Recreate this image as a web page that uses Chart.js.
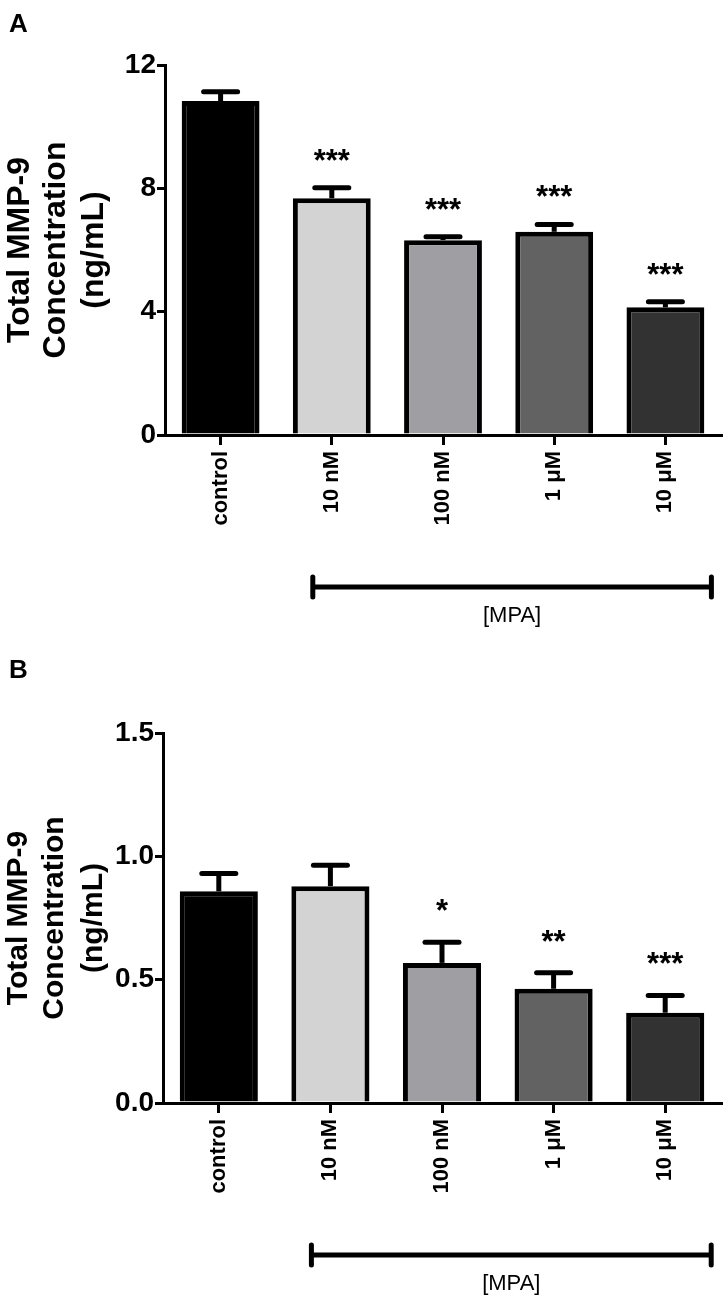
<!DOCTYPE html>
<html>
<head>
<meta charset="utf-8">
<script src="https://cdn.jsdelivr.net/npm/chart.js@4.4.1/dist/chart.umd.min.js"></script>
<style>
  html, body { margin: 0; padding: 0; background: #fff; }
  .panel { position: absolute; left: 0; width: 726px; height: 650px; }
  #pa { top: 0; }
  #pb { top: 650px; }
</style>
</head>
<body>
<div class="panel" id="pa"><canvas id="chartA" width="726" height="650"></canvas></div>
<div class="panel" id="pb"><canvas id="chartB" width="726" height="650"></canvas></div>
<script>
// ---- data ----
const categories = ['control', '10 nM', '100 nM', '1 \u03bcM', '10 \u03bcM'];
const barColors = ['#000000', '#d3d3d3', '#9f9fa3', '#626262', '#323232'];

const meansA = [10.83, 7.68, 6.32, 6.59, 4.14];
const semA   = [0.30, 0.34, 0.11, 0.24, 0.18];
const starsA = ['', '***', '***', '***', '***'];
const yTicksA = [0, 4, 8, 12];

const meansB = [0.858, 0.879, 0.568, 0.463, 0.366];
const semB   = [0.072, 0.085, 0.084, 0.065, 0.070];
const starsB = ['', '', '*', '**', '***'];
const yTicksB = [0, 0.5, 1.0, 1.5];

const yTitleLines = ['Total MMP-9', 'Concentration', '(ng/mL)'];
const bracketLabel = '[MPA]';

const FONT = '"Liberation Sans", Arial, Helvetica, sans-serif';

// ---- plugin drawing error bars, stars, bracket, titles ----
const extrasPlugin = {
  id: 'extras',
  afterDatasetsDraw(chart) {
    const o = chart.options.plugins.extras;
    const ctx = chart.ctx;
    const meta = chart.getDatasetMeta(0);
    const ys = chart.scales.y;
    ctx.save();
    ctx.strokeStyle = '#000';
    ctx.lineWidth = 5;
    meta.data.forEach((bar, i) => {
      const top = bar.y;
      const capY = ys.getPixelForValue(o.means[i] + o.sem[i]);
      ctx.lineCap = 'butt';
      ctx.beginPath();
      ctx.moveTo(bar.x, top);
      ctx.lineTo(bar.x, capY);
      ctx.stroke();
      ctx.lineCap = 'round';
      ctx.beginPath();
      ctx.moveTo(bar.x - 17, capY);
      ctx.lineTo(bar.x + 17, capY);
      ctx.stroke();
      if (o.stars[i]) {
        ctx.fillStyle = '#000';
        ctx.font = 'bold 31px ' + FONT;
        ctx.textAlign = 'center';
        ctx.textBaseline = 'alphabetic';
        ctx.fillText(o.stars[i], bar.x, capY - o.starGap + 18);
      }
    });
    ctx.restore();
  },
  afterDraw(chart) {
    const o = chart.options.plugins.extras;
    const ctx = chart.ctx;
    const area = chart.chartArea;
    const xs = chart.scales.x;
    ctx.save();
    // panel letter
    ctx.fillStyle = '#000';
    ctx.font = 'bold 26px ' + FONT;
    ctx.textAlign = 'left';
    ctx.textBaseline = 'alphabetic';
    ctx.fillText(o.letter, 9, o.letterY);
    // y-axis title (three rotated lines)
    ctx.font = 'bold ' + o.titleSize + 'px ' + FONT;
    ctx.textAlign = 'center';
    ctx.textBaseline = 'middle';
    const cy = (area.top + area.bottom) / 2;
    o.titleX.forEach((tx, k) => {
      ctx.save();
      ctx.translate(tx, cy);
      ctx.rotate(-Math.PI / 2);
      ctx.fillText(yTitleLines[k], 0, 0);
      ctx.restore();
    });
    // [MPA] bracket under treated groups
    const bx0 = xs.getPixelForValue(1) - 19;
    const bx1 = xs.getPixelForValue(4) + 46;
    const by = area.bottom + o.bracketGap;
    ctx.strokeStyle = '#000';
    ctx.lineWidth = 5;
    ctx.lineCap = 'butt';
    ctx.beginPath();
    ctx.moveTo(bx0, by);
    ctx.lineTo(bx1, by);
    ctx.stroke();
    ctx.lineCap = 'round';
    ctx.beginPath();
    ctx.moveTo(bx0, by - 10);
    ctx.lineTo(bx0, by + 10);
    ctx.moveTo(bx1, by - 10);
    ctx.lineTo(bx1, by + 10);
    ctx.stroke();
    ctx.font = '22px ' + FONT;
    ctx.textAlign = 'center';
    ctx.textBaseline = 'middle';
    ctx.fillText(bracketLabel, (bx0 + bx1) / 2, by + 29);
    ctx.restore();
  }
};

function makeChart(id, means, sem, stars, yTicks, cfg) {
  const maxY = yTicks[yTicks.length - 1];
  return new Chart(document.getElementById(id), {
    type: 'bar',
    data: {
      labels: categories,
      datasets: [{
        data: means,
        backgroundColor: barColors,
        borderColor: '#000',
        borderWidth: 5,
        borderSkipped: 'start',
        inflateAmount: 0,
        barPercentage: 0.70,
        categoryPercentage: 1.0
      }]
    },
    options: {
      responsive: false,
      animation: false,
      devicePixelRatio: 1,
      layout: { padding: { left: 0, top: cfg.top, right: 5, bottom: 0 } },
      plugins: {
        legend: { display: false },
        tooltip: { enabled: false },
        extras: {
          means: means, sem: sem, stars: stars,
          starGap: cfg.starGap, letter: cfg.letter, letterY: cfg.letterY,
          titleSize: cfg.titleSize, titleX: cfg.titleX, bracketGap: cfg.bracketGap
        }
      },
      scales: {
        x: {
          offset: true,
          grid: { display: true, offset: false, drawOnChartArea: false, color: '#000', lineWidth: 3, tickLength: 10 },
          border: { display: true, color: '#000', width: 3 },
          ticks: {
            autoSkip: false, minRotation: 90, maxRotation: 90, padding: 6,
            color: '#000', font: { family: FONT, size: 22, weight: 'bold' }
          },
          afterFit(scale) { scale.height = 650 - cfg.bottom; }
        },
        y: {
          min: 0, max: maxY,
          afterBuildTicks(scale) { scale.ticks = yTicks.map(v => ({ value: v })); },
          grid: { display: true, drawOnChartArea: false, color: '#000', lineWidth: 3, tickLength: 8 },
          border: { display: true, color: '#000', width: 3 },
          ticks: {
            padding: 1, color: '#000',
            font: { family: FONT, size: 28, weight: 'bold' },
            callback: (v) => cfg.decimals ? Number(v).toFixed(cfg.decimals) : String(v)
          },
          afterFit(scale) { scale.width = cfg.left; }
        }
      }
    },
    plugins: [extrasPlugin]
  });
}

makeChart('chartA', meansA, semA, starsA, yTicksA, {
  top: 65, bottom: 435, left: 165, starGap: 35, letter: 'A', letterY: 32,
  titleSize: 32, titleX: [20, 56, 94], bracketGap: 152, decimals: 0
});
makeChart('chartB', meansB, semB, starsB, yTicksB, {
  top: 83, bottom: 453, left: 163, starGap: 39, letter: 'B', letterY: 28,
  titleSize: 30, titleX: [19, 55, 94], bracketGap: 152, decimals: 1
});
</script>
</body>
</html>
